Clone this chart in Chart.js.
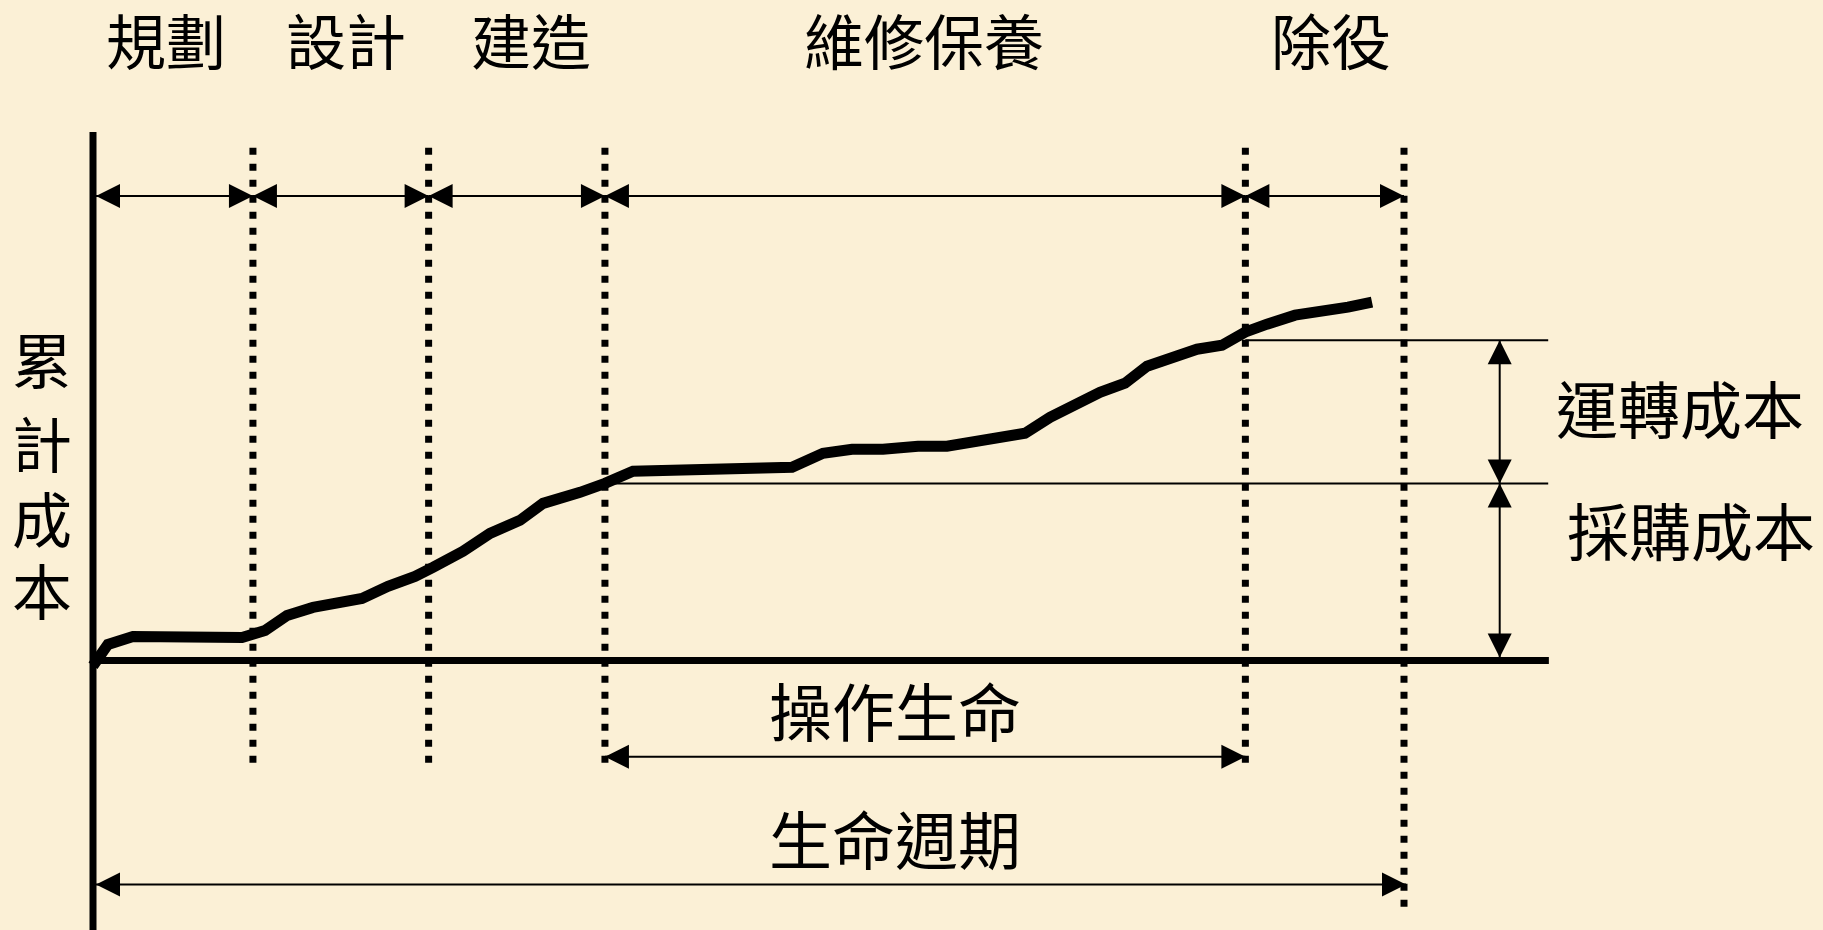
<!DOCTYPE html>
<html>
<head>
<meta charset="utf-8">
<script src="https://cdn.jsdelivr.net/npm/chart.js@4/dist/chart.umd.min.js"></script>
<style>
  html, body { margin: 0; padding: 0; background: #FBF0D6; overflow: hidden; }
  #wrap { width: 1823px; height: 930px; }
</style>
</head>
<body>
<div id="wrap"><canvas id="c" width="1823" height="930"></canvas></div>
<script>
// ---- data ----
const phaseNames = ['規劃', '設計', '建造', '維修保養', '除役'];
const phaseBounds = [0, 12.2, 25.6, 39.05, 87.9, 100];      // time units
const costX = [0, 1.14, 3.05, 11.37, 13.12, 14.80, 16.78, 20.52, 22.50, 24.56, 25.93, 28.22, 30.28, 32.57, 34.33, 37.15, 39.05, 41.19, 53.32, 55.68, 57.90, 60.26, 62.93, 65.14, 71.09, 73.00, 76.81, 78.72, 80.40, 84.21, 86.12, 87.87, 89.55, 91.69, 95.73, 97.56];
const costY = [-1, 3.03, 4.55, 4.36, 5.68, 8.52, 10.04, 11.74, 14.02, 15.91, 17.61, 20.64, 24.05, 26.52, 29.73, 31.82, 33.52, 35.80, 36.55, 39.20, 39.96, 39.96, 40.53, 40.53, 42.99, 46.02, 50.76, 52.46, 55.68, 58.90, 59.66, 62.12, 63.64, 65.34, 66.86, 67.80];
const acquisitionLevel = 33.5;   // 採購成本 level
const operatingLevel = 60.6;     // 運轉成本 top level
const yAxisTitle = '累計成本';
const costLabels = ['運轉成本', '採購成本'];
const spanLabels = ['操作生命', '生命週期'];

const FONT = "'Noto Sans CJK TC', 'Noto Sans CJK SC', sans-serif";

function arrowHead(ctx, x, y, dx, dy) {
  const L = 24, W = 12;
  const len = Math.hypot(dx, dy); const ux = dx / len, uy = dy / len;
  const bx = x - ux * L, by = y - uy * L;
  ctx.beginPath();
  ctx.moveTo(x, y);
  ctx.lineTo(bx - uy * W, by + ux * W);
  ctx.lineTo(bx + uy * W, by - ux * W);
  ctx.closePath();
  ctx.fill();
}
function dblArrow(ctx, x1, y1, x2, y2) {
  ctx.beginPath(); ctx.moveTo(x1, y1); ctx.lineTo(x2, y2); ctx.stroke();
  arrowHead(ctx, x1, y1, x1 - x2, y1 - y2);
  arrowHead(ctx, x2, y2, x2 - x1, y2 - y1);
}

const decor = {
  id: 'decor',
  beforeDraw(chart) {
    const ctx = chart.ctx;
    ctx.save();
    ctx.fillStyle = '#FBF0D6';
    ctx.fillRect(0, 0, chart.width, chart.height);
    ctx.restore();
  },
  afterDatasetsDraw(chart) {
    const ctx = chart.ctx;
    const xs = chart.scales.x, ys = chart.scales.y;
    const X = v => xs.getPixelForValue(v);
    const Y = v => ys.getPixelForValue(v);
    ctx.save();
    ctx.strokeStyle = '#000'; ctx.fillStyle = '#000';

    // dotted phase boundaries
    ctx.lineWidth = 7; ctx.setLineDash([7, 9]); ctx.lineCap = 'butt';
    phaseBounds.slice(1).forEach((b, i, arr) => {
      const last = i === arr.length - 1;
      ctx.beginPath();
      ctx.moveTo(X(b), Y(97));
      ctx.lineTo(X(b), last ? Y(-46.8) : Y(-19.5));
      ctx.stroke();
    });
    ctx.setLineDash([]);

    // axes
    ctx.lineWidth = 7;
    ctx.beginPath(); ctx.moveTo(X(0), Y(100)); ctx.lineTo(X(0), chart.height); ctx.stroke();
    ctx.beginPath(); ctx.moveTo(X(0) - 3, Y(0)); ctx.lineTo(X(111.05), Y(0)); ctx.stroke();

    // thin reference lines
    ctx.lineWidth = 2;
    ctx.beginPath(); ctx.moveTo(X(phaseBounds[3]), Y(acquisitionLevel)); ctx.lineTo(X(111), Y(acquisitionLevel)); ctx.stroke();
    ctx.beginPath(); ctx.moveTo(X(phaseBounds[4]), Y(operatingLevel)); ctx.lineTo(X(111), Y(operatingLevel)); ctx.stroke();

    // top phase arrows
    const topY = Y(87.9);
    for (let i = 0; i < phaseBounds.length - 1; i++) {
      dblArrow(ctx, X(phaseBounds[i]) + (i === 0 ? 3 : 0), topY, X(phaseBounds[i + 1]), topY);
    }
    // right vertical arrows
    const vx = X(107.3);
    dblArrow(ctx, vx, Y(operatingLevel), vx, Y(acquisitionLevel));
    dblArrow(ctx, vx, Y(acquisitionLevel), vx, Y(0) - 3);
    // bottom span arrows
    dblArrow(ctx, X(phaseBounds[3]), Y(-18.2), X(phaseBounds[4]), Y(-18.2));
    dblArrow(ctx, X(0) + 3, Y(-42.4), X(phaseBounds[5]) + 2, Y(-42.4));

    // texts
    ctx.textAlign = 'center'; ctx.textBaseline = 'middle';
    ctx.font = '400 60px ' + FONT;
    const phaseCx = [166, 346, 531, 924, 1331];
    phaseNames.forEach((t, i) => ctx.fillText(t, phaseCx[i], 42));

    const yc = [361, 445, 520, 592];
    [...yAxisTitle].forEach((ch, i) => ctx.fillText(ch, 42, yc[i]));

    ctx.font = '400 62px ' + FONT;
    ctx.fillText(costLabels[0], 1680, 410);
    ctx.fillText(costLabels[1], 1691, 532);

    ctx.font = '400 63px ' + FONT;
    ctx.fillText(spanLabels[0], 895, 712);
    ctx.fillText(spanLabels[1], 895, 840);
    ctx.restore();
  }
};

new Chart(document.getElementById('c'), {
  type: 'scatter',
  data: {
    datasets: [{
      data: costX.map((x, i) => ({ x, y: costY[i] })),
      showLine: true,
      borderColor: '#000',
      borderWidth: 11,
      borderJoinStyle: 'miter',
      borderCapStyle: 'butt',
      pointRadius: 0,
      tension: 0,
      clip: false
    }]
  },
  options: {
    responsive: false,
    animation: false,
    devicePixelRatio: 1,
    layout: { padding: { left: 93, right: 419, top: 132, bottom: 0 } },
    plugins: { legend: { display: false }, tooltip: { enabled: false } },
    scales: {
      x: { type: 'linear', min: 0, max: 100, display: false },
      y: { type: 'linear', min: -51, max: 100, display: false }
    }
  },
  plugins: [decor]
});
</script>
</body>
</html>
